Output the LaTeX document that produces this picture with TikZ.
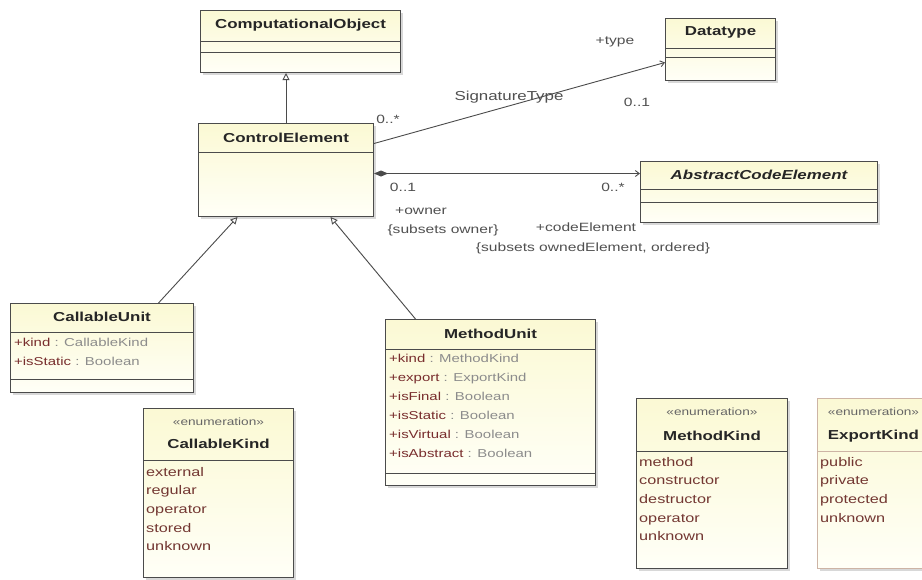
\documentclass[tikz,border=0pt]{standalone}
\usepackage{fontspec}
\setmainfont[FakeStretch=1.3]{Liberation Sans}
\usetikzlibrary{arrows.meta,shadows,matrix}

\definecolor{umlfill}{RGB}{251,249,212}
\definecolor{umlfilltwo}{RGB}{255,255,247}
\definecolor{umlline}{RGB}{75,75,75}
\definecolor{enumline}{RGB}{205,180,165}
\definecolor{attrname}{RGB}{120,45,45}
\definecolor{attrtype}{RGB}{140,140,140}
\definecolor{litcol}{RGB}{115,55,50}
\definecolor{lblcol}{RGB}{80,80,80}

\newcommand{\umlattr}[2]{\textcolor{attrname}{#1} \textcolor{attrtype}{: #2}}

\begin{document}
\begin{tikzpicture}[x=1pt,y=-1pt]
\tikzstyle{cls}=[rectangle, draw=umlline, line width=1pt, anchor=north west, inner sep=0pt, top color=umlfill, bottom color=umlfilltwo, drop shadow={shadow xshift=2pt,shadow yshift=-2pt,fill=black!30}]
\tikzstyle{hdr}=[font=\fontsize{13}{15}\selectfont\bfseries, inner sep=0pt, text=black!85]
\tikzstyle{stereo}=[font=\fontsize{10.5}{12}\selectfont, inner sep=0pt, text=black!60]
\tikzstyle{sep}=[draw=umlline, line width=1pt]
\tikzstyle{lbl}=[font=\fontsize{12}{14}\selectfont, inner sep=0pt, text=lblcol]
\tikzstyle{attrs}=[matrix of nodes, anchor=north west, inner sep=0pt, row sep=7pt, nodes={anchor=west, inner sep=0pt, text height=9pt, text depth=3pt, font=\fontsize{11.5}{13}\selectfont}]
\tikzstyle{lits}=[attrs, row sep=6.6pt, nodes={text=litcol, font=\fontsize{12.5}{14}\selectfont}]
\tikzstyle{gen}=[-{Triangle[open,fill=white,length=7pt,width=7pt]}, draw=umlline, line width=0.9pt]
\tikzstyle{nav}=[-{Straight Barb[length=4pt,width=6pt]}, draw=umlline, line width=0.9pt]
\tikzstyle{comp}=[{Diamond[length=14pt,width=6pt]}-{Straight Barb[length=4pt,width=6pt]}, draw=umlline, line width=0.9pt]

\useasboundingbox (0,0) rectangle (922,579);
\fill[white] (0,0) rectangle (922,579);
\clip (0,0) rectangle (922,579);

% classes
\node[cls, minimum width=200pt, minimum height=62pt] (co) at (200,10) {};
\node[hdr] (coT) at ([yshift=-15.5pt]co.north) {ComputationalObject};
\draw[sep] ([yshift=-31pt]co.north west) -- ([yshift=-31pt]co.north east);
\draw[sep] ([yshift=-42pt]co.north west) -- ([yshift=-42pt]co.north east);

\node[cls, minimum width=175pt, minimum height=93pt] (ctl) at (198,123) {};
\node[hdr] (ctlT) at ([yshift=-14.5pt]ctl.north) {ControlElement};
\draw[sep] ([yshift=-29pt]ctl.north west) -- ([yshift=-29pt]ctl.north east);

\node[cls, minimum width=110pt, minimum height=62pt] (dt) at (665,18) {};
\node[hdr] (dtT) at ([yshift=-14pt]dt.north) {Datatype};
\draw[sep] ([yshift=-30pt]dt.north west) -- ([yshift=-30pt]dt.north east);
\draw[sep] ([yshift=-39pt]dt.north west) -- ([yshift=-39pt]dt.north east);

\node[cls, minimum width=237pt, minimum height=61pt] (ace) at (640,161) {};
\node[hdr, font=\fontsize{13}{15}\selectfont\bfseries\itshape] (aceT) at ([yshift=-13.5pt]ace.north) {AbstractCodeElement};
\draw[sep] ([yshift=-28pt]ace.north west) -- ([yshift=-28pt]ace.north east);
\draw[sep] ([yshift=-41pt]ace.north west) -- ([yshift=-41pt]ace.north east);

\node[cls, minimum width=183pt, minimum height=89pt] (cu) at (10,303) {};
\node[hdr] (cuT) at ([yshift=-14pt]cu.north) {CallableUnit};
\draw[sep] ([yshift=-29pt]cu.north west) -- ([yshift=-29pt]cu.north east);
\draw[sep] ([yshift=-76pt]cu.north west) -- ([yshift=-76pt]cu.north east);
\matrix (cuA) [attrs] at (14,337) {
  \umlattr{+kind}{CallableKind} \\
  \umlattr{+isStatic}{Boolean} \\
};

\node[cls, minimum width=210pt, minimum height=166pt] (mu) at (385,319) {};
\node[hdr] (muT) at ([yshift=-14.5pt]mu.north) {MethodUnit};
\draw[sep] ([yshift=-30pt]mu.north west) -- ([yshift=-30pt]mu.north east);
\draw[sep] ([yshift=-154pt]mu.north west) -- ([yshift=-154pt]mu.north east);
\matrix (muA) [attrs] at (389,353) {
  \umlattr{+kind}{MethodKind} \\
  \umlattr{+export}{ExportKind} \\
  \umlattr{+isFinal}{Boolean} \\
  \umlattr{+isStatic}{Boolean} \\
  \umlattr{+isVirtual}{Boolean} \\
  \umlattr{+isAbstract}{Boolean} \\
};

% enumerations
\node[cls, minimum width=150pt, minimum height=169pt] (ck) at (143,408) {};
\node[stereo] (ckS) at ([yshift=-13.5pt]ck.north) {«enumeration»};
\node[hdr] (ckT) at ([yshift=-35.5pt]ck.north) {CallableKind};
\draw[sep] ([yshift=-52pt]ck.north west) -- ([yshift=-52pt]ck.north east);
\matrix (ckL) [lits] at (146,467) {
  external \\ regular \\ operator \\ stored \\ unknown \\
};

\node[cls, minimum width=151pt, minimum height=170pt] (mk) at (636,398) {};
\node[stereo] (mkS) at ([yshift=-14pt]mk.north) {«enumeration»};
\node[hdr] (mkT) at ([yshift=-38pt]mk.north) {MethodKind};
\draw[sep] ([yshift=-53pt]mk.north west) -- ([yshift=-53pt]mk.north east);
\matrix (mkL) [lits] at (639,457) {
  method \\ constructor \\ destructor \\ operator \\ unknown \\
};

\node[cls, draw=enumline, minimum width=112pt, minimum height=170pt] (ek) at (817,398) {};
\node[stereo] (ekS) at ([yshift=-14pt]ek.north) {«enumeration»};
\node[hdr] (ekT) at ([yshift=-38pt]ek.north) {ExportKind};
\draw[sep, draw=enumline] ([yshift=-53pt]ek.north west) -- ([yshift=-53pt]ek.north east);
\matrix (ekL) [lits] at (820,457) {
  public \\ private \\ protected \\ unknown \\
};

% connectors
\draw[gen] (ctl.north) -- (ctl.north |- co.south);
\draw[gen] ([xshift=56.5pt]cu.north) -- ([xshift=-48.5pt]ctl.south);
\draw[gen] ([xshift=-75pt]mu.north) -- ([xshift=44.5pt]ctl.south);
\draw[nav] ([yshift=26.5pt]ctl.east) -- ([yshift=-13pt]dt.west);
\draw[comp] ([yshift=-3.5pt]ctl.east) -- ([yshift=18.5pt]ace.west);

\node[lbl, font=\fontsize{13}{15}\selectfont] (sigName) at (509,97) {SignatureType};
\node[lbl] (sigSrc) at (388,119) {0..*};
\node[lbl] (sigTgt) at (637,102) {0..1};
\node[lbl] (sigRole) at (615,42) {+type};
\node[lbl] (ownMult) at (403,187) {0..1};
\node[lbl] (ceMult) at (613,187) {0..*};
\node[lbl] (ownRole) at (421,211) {+owner};
\node[lbl] (ownCons) at (443,230) {\{subsets owner\}};
\node[lbl] (ceRole) at (586,227) {+codeElement};
\node[lbl] (ceCons) at (593,248) {\{subsets ownedElement, ordered\}};
\end{tikzpicture}
\end{document}
